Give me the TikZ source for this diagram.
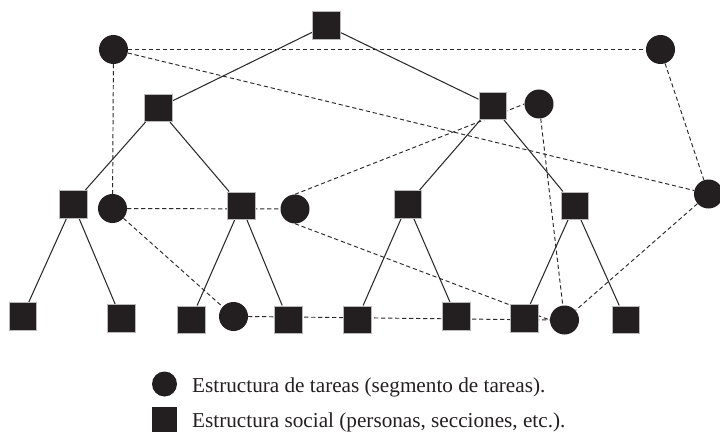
\documentclass[tikz,border=0pt]{standalone}
\usepackage{fontspec}
\setmainfont{Liberation Serif}
\usetikzlibrary{backgrounds}
\definecolor{ink}{HTML}{231F20}
\definecolor{edge}{HTML}{2A2A2A}
\tikzset{
  sq/.style={rectangle, fill=ink, draw=gray!55, line width=0.5pt, minimum size=27.5pt, inner sep=0pt},
  ci/.style={circle, fill=ink, minimum size=29pt, inner sep=0pt},
  tree/.style={draw=edge, line width=1.05pt},
  link/.style={draw=edge, line width=0.95pt, dash pattern=on 4.2pt off 2.8pt},
  legtext/.style={anchor=base west, inner sep=0pt, font=\fontsize{21.2}{25}\selectfont, text=ink}
}
\begin{document}
\begin{tikzpicture}[x=1pt, y=-1pt]
\useasboundingbox (0,0) rectangle (720,433);
% squares (social structure)
\node[sq] (t)  at (326,25.5) {};
\node[sq] (a)  at (158,108) {};
\node[sq] (b)  at (492.5,106) {};
\node[sq] (a1) at (73,204) {};
\node[sq] (a2) at (241,205.5) {};
\node[sq] (b1) at (407.5,204) {};
\node[sq] (b2) at (574.5,205.5) {};
\node[sq] (l1) at (22.5,316) {};
\node[sq] (l2) at (121,318) {};
\node[sq] (l3) at (191,319.5) {};
\node[sq] (l4) at (288,319.5) {};
\node[sq] (l5) at (357,319.5) {};
\node[sq] (l6) at (456,316) {};
\node[sq] (l7) at (524,318) {};
\node[sq] (l8) at (625.5,319.5) {};
% circles (task structure)
\node[ci] (c1) at (113.5,49.5) {};
\node[ci] (c2) at (660.5,49.5) {};
\node[ci] (c3) at (539,104) {};
\node[ci] (c4) at (112.5,208.5) {};
\node[ci] (c5) at (295,209) {};
\node[ci] (c6) at (708.5,194) {};
\node[ci] (c7) at (233.5,316.5) {};
\node[ci] (c8) at (564.5,320) {};
% legend
\node[ci, minimum size=25pt] (lc) at (164.5,384) {};
\node[sq, minimum size=25pt, draw=none] (ls) at (164.5,419.5) {};
\node[legtext] (lt1) at (192,392) {Estructura de tareas (segmento de tareas).};
\node[legtext] (lt2) at (192,427) {Estructura social (personas, secciones, etc.).};
\begin{pgfonlayer}{background}
% tree edges
\draw[tree] (t) -- (a);
\draw[tree] (t) -- (b);
\draw[tree] (a) -- (a1);
\draw[tree] (a) -- (a2);
\draw[tree] (b) -- (b1);
\draw[tree] (b) -- (b2);
\draw[tree] (a1) -- (l1);
\draw[tree] (a1) -- (l2);
\draw[tree] (a2) -- (l3);
\draw[tree] (a2) -- (l4);
\draw[tree] (b1) -- (l5);
\draw[tree] (b1) -- (l6);
\draw[tree] (b2) -- (l7);
\draw[tree] (b2) -- (l8);
% task links
\draw[link] (c1) -- (c2);
\draw[link] (c1) -- (c6);
\draw[link] (c1) -- (c4);
\draw[link] (c2) -- (c6);
\draw[link] (c6) -- (c8);
\draw[link] (c3) -- (c8);
\draw[link] (c5.north) -- (c3.west);
\draw[link] (c4) -- (c5);
\draw[link] (c4) -- (c7);
\draw[link] (c7.east) -- (c8.west);
\draw[link] (c5.south) -- (c8.west);
\end{pgfonlayer}
\end{tikzpicture}
\end{document}
